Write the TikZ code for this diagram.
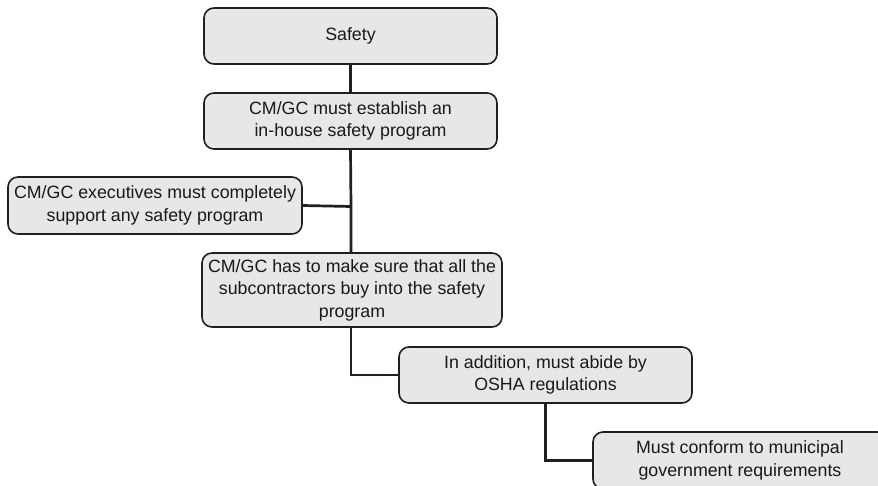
\documentclass[tikz,border=0pt]{standalone}
\usepackage{fontspec}
\setmainfont{Liberation Sans}
\definecolor{boxfill}{HTML}{E6E7E8}
\definecolor{inkline}{HTML}{231F20}
\begin{document}
\begin{tikzpicture}[x=1pt,y=-1pt,
  card/.style={draw=inkline, fill=boxfill, line width=1.6pt, rounded corners=10pt,
    inner sep=0pt, align=center, font=\fontsize{17.8}{22.5}\selectfont, text=black!90},
  link/.style={draw=inkline, line width=2.7pt}]
\useasboundingbox (0,0) rectangle (878,486);
\clip (0,0) rectangle (878,486);
% boxes, top to bottom
\node[card, minimum width=293pt, minimum height=56pt] (safety) at (350.5,36) {Safety};
\node[card, minimum width=293pt, minimum height=56pt] (inhouse) at (350.5,121) {CM/GC must establish an\\in-house safety program};
\node[card, minimum width=294pt, minimum height=57pt] (exec) at (155,205.5) {CM/GC executives must completely\\support any safety program};
\node[card, minimum width=300pt, minimum height=74pt] (subs) at (352,290) {CM/GC has to make sure that all the\\subcontractors buy into the safety\\program};
\node[card, minimum width=293pt, minimum height=56pt] (osha) at (545.5,375) {In addition, must abide by\\OSHA regulations};
\node[card, minimum width=294pt, minimum height=57pt] (muni) at (740,460.5) {Must conform to municipal\\government requirements};
% connectors
\coordinate (spine) at (351,206.5);
\draw[link] (safety.south) -- (inhouse.north);
\draw[link] (inhouse.south) -- (spine) -- (351,253);
\draw[link] (exec.east) -- (spine);
\draw[link] (351,327) |- (osha.west);
\draw[link] (osha.south) |- (muni.west);
\end{tikzpicture}
\end{document}
